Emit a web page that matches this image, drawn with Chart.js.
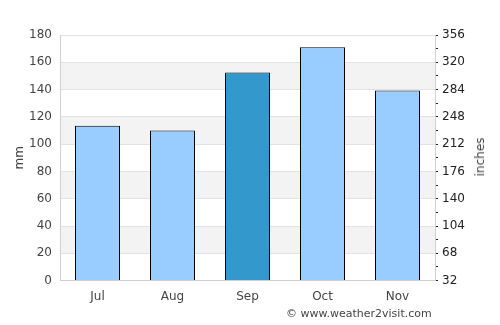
<!DOCTYPE html>
<html>
<head>
<meta charset="utf-8">
<script src="https://cdn.jsdelivr.net/npm/chart.js@4"></script>
<style>
  html, body { margin: 0; padding: 0; background: #fff; }
  #wrap { position: relative; width: 500px; height: 325px; }
  #credit { position: absolute; left: 286px; top: 307px; font: 11px "DejaVu Sans", sans-serif; color: #444; white-space: nowrap; }
  #rightTitle { position: absolute; left: 480px; top: 157px; font: 12px "DejaVu Sans", sans-serif; color: #444;
    transform: translate(-50%, -50%) rotate(-90deg); white-space: nowrap; }
</style>
</head>
<body>
<div id="wrap">
  <canvas id="rainChart" width="500" height="325"></canvas>
  <div id="rightTitle">inches</div>
  <div id="credit">© www.weather2visit.com</div>
</div>
<script>
// monthly rainfall
const months = ['Jul', 'Aug', 'Sep', 'Oct', 'Nov'];
const rainMm = [113.5, 110, 152.5, 171, 139.3];
const barColors = ['#99ccff', '#99ccff', '#3399cc', '#99ccff', '#99ccff'];
const shadedBands = [[20, 40], [60, 80], [100, 120], [140, 160]];

// grey stripes behind the bars
const bandPlugin = {
  id: 'bands',
  beforeDraw(chart) {
    const {ctx, chartArea: area, scales: {y}} = chart;
    ctx.save();
    ctx.fillStyle = '#f3f3f3';
    shadedBands.forEach(([lo, hi]) => {
      const top = y.getPixelForValue(hi);
      const bottom = y.getPixelForValue(lo);
      ctx.fillRect(area.left, top, area.right - area.left, bottom - top);
    });
    ctx.restore();
  }
};

const font = {family: '"DejaVu Sans", sans-serif', size: 12};

new Chart(document.getElementById('rainChart'), {
  type: 'bar',
  data: {
    labels: months,
    datasets: [{
      data: rainMm,
      backgroundColor: barColors,
      borderColor: '#000',
      borderWidth: 1,
      borderSkipped: 'bottom',
      categoryPercentage: 1,
      barPercentage: 0.6,
    }]
  },
  options: {
    responsive: false,
    animation: false,
    layout: { padding: {left: 13, right: 6, top: 35, bottom: 12} },
    plugins: { legend: {display: false}, tooltip: {enabled: false} },
    scales: {
      x: {
        grid: { display: false, drawTicks: false },
        border: { color: '#d0d0d0' },
        ticks: { font, color: '#444', padding: 9 }
      },
      y: {
        min: 0, max: 180,
        afterFit(s) { s.width = 47; },
        ticks: { stepSize: 20, font, color: '#444', padding: 8 },
        grid: { color: '#e2e2e2', drawTicks: false },
        border: { color: '#d0d0d0' },
        title: { display: true, text: 'mm', font, color: '#444', padding: 0 }
      },
      y2: {
        position: 'right',
        min: 32, max: 356,
        afterFit(s) { s.width = 59; },
        ticks: {
          stepSize: 18, font, color: '#222', padding: 4, autoSkip: false,
          callback: v => ((v - 32) % 36 === 0 ? v : '')
        },
        grid: { drawOnChartArea: false, tickLength: 3, color: '#222' },
        border: { color: '#d0d0d0' }
      }
    }
  },
  plugins: [bandPlugin]
});
</script>
</body>
</html>
